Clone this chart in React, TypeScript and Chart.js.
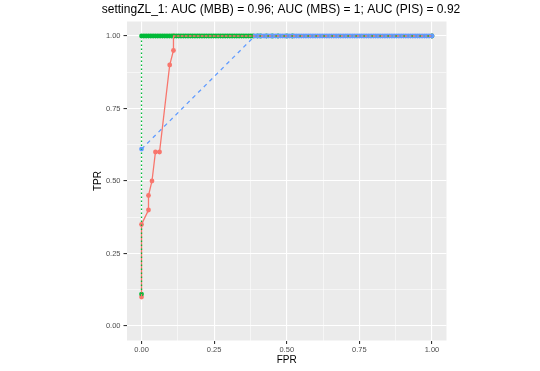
import React, { useEffect, useRef } from "react";
import { Chart, registerables } from "chart.js";

Chart.register(...registerables);

const titleText = "settingZL_1: AUC (MBB) = 0.96; AUC (MBS) = 1; AUC (PIS) = 0.92";
const xAxisTitle = "FPR";
const yAxisTitle = "TPR";

const majorBreaks = [0, 0.25, 0.5, 0.75, 1];
const majorLabels = ["0.00", "0.25", "0.50", "0.75", "1.00"];
const minorBreaks = [0.125, 0.375, 0.625, 0.875];

// MBB (red)
const mbbFpr = [0, 0, 0.024, 0.024, 0.036, 0.048, 0.062, 0.097, 0.11, 0.11, 1.0];
const mbbTpr = [0.10, 0.35, 0.40, 0.45, 0.50, 0.60, 0.60, 0.90, 0.95, 1.0, 1.0];

// MBS (green)
const mbsFpr = [
  0,
  0, 0.008, 0.016, 0.024, 0.032, 0.04, 0.048, 0.056, 0.064, 0.072,
  0.08, 0.088, 0.096, 0.104, 0.112, 0.12, 0.128, 0.136, 0.144, 0.152,
  0.16, 0.168, 0.176, 0.184, 0.192, 0.2, 0.208, 0.216, 0.224, 0.232,
  0.24, 0.248, 0.256, 0.264, 0.272, 0.28, 0.288, 0.296, 0.304, 0.312,
  0.32, 0.328, 0.336, 0.344, 0.352, 0.36, 0.368, 0.376, 0.384,
  0.4, 0.41, 0.43, 0.45, 0.47, 0.5, 0.52,
  1.0,
];
const mbsTpr = [
  0.11,
  1, 1, 1, 1, 1, 1, 1, 1, 1, 1,
  1, 1, 1, 1, 1, 1, 1, 1, 1, 1,
  1, 1, 1, 1, 1, 1, 1, 1, 1, 1,
  1, 1, 1, 1, 1, 1, 1, 1, 1, 1,
  1, 1, 1, 1, 1, 1, 1, 1, 1,
  1, 1, 1, 1, 1, 1, 1,
  1,
];

// PIS (blue)
const pisFpr = [
  0,
  0.39, 0.398, 0.406, 0.414, 0.422, 0.43, 0.438, 0.446, 0.454, 0.462,
  0.47, 0.478, 0.486, 0.494, 0.502, 0.51, 0.518, 0.526, 0.534, 0.542,
  0.55, 0.558, 0.566, 0.574, 0.582, 0.59, 0.598, 0.606, 0.614, 0.622,
  0.63, 0.638, 0.646, 0.654, 0.662, 0.67, 0.678, 0.686, 0.694, 0.702,
  0.71, 0.718, 0.726, 0.734, 0.742, 0.75, 0.758, 0.766, 0.774, 0.782,
  0.79, 0.798, 0.806, 0.814, 0.822, 0.83, 0.838, 0.846, 0.854, 0.862,
  0.87, 0.878, 0.886, 0.894, 0.902, 0.91, 0.918, 0.926, 0.934, 0.942,
  0.95, 0.958, 0.966, 0.974, 0.982, 0.99, 1.0,
];
const pisTpr = [
  0.61,
  1, 1, 1, 1, 1, 1, 1, 1, 1, 1,
  1, 1, 1, 1, 1, 1, 1, 1, 1, 1,
  1, 1, 1, 1, 1, 1, 1, 1, 1, 1,
  1, 1, 1, 1, 1, 1, 1, 1, 1, 1,
  1, 1, 1, 1, 1, 1, 1, 1, 1, 1,
  1, 1, 1, 1, 1, 1, 1, 1, 1, 1,
  1, 1, 1, 1, 1, 1, 1, 1, 1, 1,
  1, 1, 1, 1, 1, 1, 1,
];

const RED = "#F8766D";
const GREEN = "#00BA38";
const BLUE = "#619CFF";

const toPts = (xs: number[], ys: number[]) => xs.map((x, i) => ({ x, y: ys[i] }));

const allBreaks = [...majorBreaks, ...minorBreaks].sort((a, b) => a - b);
const isMajor = (v: number) => majorBreaks.some((m) => Math.abs(m - v) < 1e-9);
const labelFor = (v: number) => {
  const i = majorBreaks.findIndex((m) => Math.abs(m - v) < 1e-9);
  return i >= 0 ? majorLabels[i] : "";
};

const FONT = "'Liberation Sans', Arial, sans-serif";

const pointSet = (label: string, xs: number[], ys: number[], color: string, order: number) => ({
  type: "scatter",
  label,
  data: toPts(xs, ys),
  showLine: false,
  pointStyle: "circle",
  pointRadius: 2.4,
  pointHoverRadius: 2.4,
  borderColor: color,
  backgroundColor: color,
  pointBackgroundColor: color,
  pointBorderColor: color,
  pointBorderWidth: 0,
  pointHoverBorderWidth: 0,
  order,
});

const lineSet = (label: string, xs: number[], ys: number[], color: string, dash: number[], order: number) => ({
  type: "line",
  label,
  data: toPts(xs, ys),
  showLine: true,
  pointRadius: 0,
  pointHoverRadius: 0,
  pointBorderWidth: 0,
  borderColor: color,
  backgroundColor: color,
  borderWidth: 1.3,
  borderDash: dash,
  fill: false,
  tension: 0,
  order,
});

export default function App() {
  const ref = useRef<HTMLCanvasElement | null>(null);
  useEffect(() => {
    if (!ref.current) return;
    const panelPlugin = {
      id: "panel",
      beforeDraw(chart: any) {
        const { ctx, chartArea } = chart;
        ctx.save();
        ctx.fillStyle = "#FFFFFF";
        ctx.fillRect(0, 0, chart.width, chart.height);
        ctx.fillStyle = "#EBEBEB";
        ctx.fillRect(chartArea.left, chartArea.top, chartArea.right - chartArea.left, chartArea.bottom - chartArea.top);
        ctx.restore();
      },
      afterDraw(chart: any) {
        const { ctx, chartArea } = chart;
        ctx.save();
        ctx.fillStyle = "#000000";
        ctx.textAlign = "center";
        ctx.textBaseline = "alphabetic";
        ctx.font = `12px ${FONT}`;
        ctx.fillText(titleText, 281, 13);
        ctx.font = `10px ${FONT}`;
        ctx.fillText(xAxisTitle, (chartArea.left + chartArea.right) / 2, 363);
        ctx.translate(100.5, (chartArea.top + chartArea.bottom) / 2);
        ctx.rotate(-Math.PI / 2);
        ctx.fillText(yAxisTitle, 0, 0);
        ctx.restore();
      },
    };

    const axisCommon = (isX: boolean) => ({
      type: "linear" as const,
      min: -0.05,
      max: 1.05,
      afterBuildTicks: (scale: any) => {
        scale.ticks = allBreaks.map((v) => ({ value: v }));
      },
      afterFit: (scale: any) => {
        if (isX) scale.height = 30.5;
        else scale.width = 127;
      },
      border: { display: false },
      grid: {
        color: "#FFFFFF",
        lineWidth: (c: any) => (c.tick && isMajor(c.tick.value) ? 1.1 : 0.55),
        tickLength: 3.5,
        tickColor: (c: any) => (c.tick && isMajor(c.tick.value) ? "#333333" : "rgba(0,0,0,0)"),
        drawTicks: true,
      },
      ticks: {
        autoSkip: false,
        maxRotation: 0,
        padding: isX ? 1.5 : 3,
        color: "#4D4D4D",
        font: { size: 7.5, family: FONT },
        callback: (v: any) => labelFor(Number(v)),
      },
    });

    const chart = new Chart(ref.current, {
      type: "scatter",
      data: {
        datasets: [
          pointSet("MBB pts", mbbFpr, mbbTpr, RED, 6),
          pointSet("MBS pts", mbsFpr, mbsTpr, GREEN, 5),
          pointSet("PIS pts", pisFpr, pisTpr, BLUE, 4),
          lineSet("MBB line", mbbFpr, mbbTpr, RED, [], 3),
          lineSet("MBS line", mbsFpr, mbsTpr, GREEN, [1.5, 2.5], 2),
          lineSet("PIS line", pisFpr, pisTpr, BLUE, [4, 4], 1),
        ],
      } as any,
      options: {
        responsive: false,
        animation: false,
        devicePixelRatio: 1,
        events: [],
        layout: { padding: { top: 21.5, right: 93.5, bottom: 0, left: 0 } },
        plugins: {
          legend: { display: false },
          tooltip: { enabled: false },
          title: { display: false },
          colors: { enabled: false },
        } as any,
        scales: { x: axisCommon(true), y: axisCommon(false) } as any,
      },
      plugins: [panelPlugin],
    });
    return () => chart.destroy();
  }, []);

  return (
    <div style={{ position: "fixed", left: 0, top: 0, width: 540, height: 371, background: "#fff" }}>
      <canvas ref={ref} width={540} height={371} style={{ width: 540, height: 371 }} />
    </div>
  );
}
